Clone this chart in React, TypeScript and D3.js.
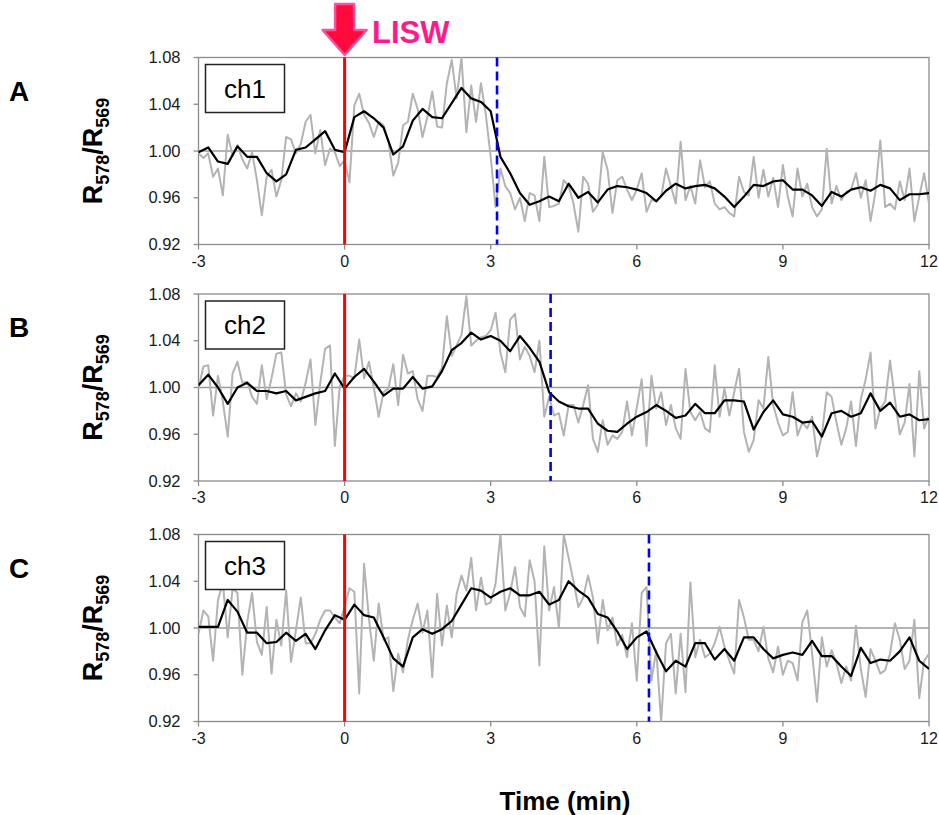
import React from "react";
import * as d3 from "d3";

// sampling grids (min)
const grayTimes = d3.range(151).map((i) => -3 + i * 0.1);
const blackTimes = d3.range(76).map((i) => -3 + i * 0.2);

const panelLetters = ["A", "B", "C"];
const channelNames = ["ch1", "ch2", "ch3"];
const endTimes = [3.13, 4.23, 6.25]; // blue dashed markers
const lisw = 0;

const xTicks = [-3, 0, 3, 6, 9, 12];
const yTicks = [0.92, 0.96, 1.0, 1.04, 1.08];

// raw ratio (gray)
const rawA = [
  0.998, 0.994, 0.998, 0.978, 0.985, 0.962, 1.014, 0.996, 1.005, 0.993,
  0.985, 0.999, 0.975, 0.945, 0.978, 0.984, 0.961, 0.975, 1.012, 1.01,
  0.998, 1.006, 1.025, 1.031, 0.998, 1.018, 0.988, 1.002, 0.999, 0.987,
  0.992, 0.973, 1.039, 1.049, 1.031, 1.024, 1.012, 1.025, 1.022, 1.008,
  0.979, 0.99, 1.022, 1.025, 1.049, 1.036, 1.012, 1.029, 1.051, 1.021,
  1.02, 1.058, 1.078, 1.045, 1.08, 1.016, 1.056, 1.025, 1.058, 1.031,
  0.995, 0.952, 0.985, 0.97, 0.964, 0.95, 0.96, 0.94, 0.964, 0.962,
  0.94, 0.995, 0.952, 0.953, 0.955, 0.975, 0.97, 0.955, 0.931, 0.978,
  0.972, 0.948, 0.954, 0.999, 0.984, 0.947, 0.975, 0.978, 0.967, 0.958,
  0.967, 0.981, 0.948, 0.958, 0.957, 0.961, 0.985, 0.97, 0.955, 1.008,
  0.958, 0.97, 0.955, 0.992, 0.969, 0.974, 0.955, 0.95, 0.952, 0.947,
  0.944, 0.978, 0.965, 0.962, 0.995, 0.96, 0.984, 0.961, 0.977, 0.952,
  0.988, 0.961, 0.944, 0.985, 0.961, 0.972, 0.952, 0.944, 0.95, 1.002,
  0.955, 0.97, 0.958, 0.965, 0.967, 0.981, 0.96, 0.975, 0.94, 0.965,
  1.009, 0.952, 0.955, 0.95, 0.974, 0.958, 0.985, 0.94, 0.961, 0.981, 0.955,
];
const rawB = [
  0.999, 1.018, 1.019, 0.976, 1.01, 0.988, 0.958, 1.012, 1.022, 1.004,
  1.005, 0.992, 0.986, 1.019, 0.99, 1.008, 1.029, 1.03, 0.994, 0.984,
  0.995, 0.988, 1.004, 1.024, 0.968, 1.004, 1.033, 1.036, 0.95, 1.001,
  1.01, 1.01, 1.008, 1.041, 1.008, 1.022, 1.0, 0.975, 0.996, 0.999,
  1.02, 0.985, 1.028, 1.012, 1.014, 0.99, 0.98, 1.01, 1.01, 1.009,
  1.017, 1.061, 1.027, 1.036, 1.045, 1.078, 1.036, 1.04, 1.043, 1.044,
  1.049, 1.064, 1.03, 1.013, 1.058, 1.063, 1.024, 1.035, 1.027, 1.013,
  1.04, 0.975, 0.992, 0.976, 0.978, 0.959, 0.985, 0.985, 0.97, 0.985,
  1.002, 0.956, 0.945, 0.972, 0.951, 0.959, 0.956, 0.962, 0.988, 0.959,
  0.983, 1.007, 0.95, 1.01, 0.982, 0.996, 0.968, 0.985, 0.965, 0.956,
  1.016, 0.979, 0.972, 0.979, 0.965, 0.962, 1.019, 0.975, 0.999, 0.976,
  0.996, 1.016, 0.962, 0.945, 0.955, 0.989, 0.982, 1.026, 0.985, 0.97,
  0.959, 0.962, 0.996, 0.959, 0.97, 0.965, 0.975, 0.941, 0.959, 0.996,
  0.992, 0.97, 0.951, 0.965, 0.988, 0.95, 0.99, 1.007, 1.03, 0.965,
  0.982, 0.988, 1.023, 0.99, 0.96, 0.97, 1.003, 0.941, 1.014, 0.965, 0.976,
];
const rawC = [
  0.995, 1.015, 1.01, 0.972, 1.024, 1.039, 0.992, 1.034, 1.03, 0.96,
  1.005, 1.03, 0.988, 0.977, 1.018, 0.961, 1.007, 0.985, 1.032, 0.971,
  0.998, 1.026, 0.987, 0.987, 0.995, 1.007, 1.015, 1.015, 1.009, 1.004,
  1.018, 1.034, 1.031, 0.944, 1.055, 1.008, 0.972, 1.021, 0.99, 0.992,
  0.946, 0.978, 0.962, 0.99, 1.007, 1.021, 0.996, 1.015, 0.958, 1.029,
  0.985, 1.019, 0.992, 1.029, 1.045, 1.032, 1.06, 1.015, 1.043, 1.02,
  1.022, 1.038, 1.08, 1.015, 1.03, 1.052, 1.018, 1.01, 1.058, 1.04,
  0.968, 1.07, 1.015, 1.035, 1.0, 1.08, 1.06, 1.04, 1.018, 1.026,
  1.045, 1.026, 0.987, 1.024, 0.998, 1.009, 0.985, 0.994, 0.975, 1.004,
  0.955, 1.03, 1.035, 0.955, 0.981, 0.92, 0.987, 0.995, 0.944, 0.995,
  0.945, 1.039, 0.975, 0.99, 0.975, 0.978, 0.987, 1.001, 0.984, 0.972,
  0.961, 1.024, 1.009, 0.99, 0.99, 0.98, 1.001, 0.974, 0.962, 0.984,
  0.96, 0.972, 0.97, 0.955, 1.005, 1.015, 0.978, 0.937, 0.992, 0.967,
  0.981, 0.97, 0.953, 0.967, 0.955, 1.002, 0.965, 0.941, 0.982, 0.972,
  0.961, 0.964, 0.978, 1.004, 0.99, 0.965, 0.972, 1.007, 0.94, 0.972, 0.978,
];

// moving average (black)
const avgA = [
  0.999, 1.003, 0.991, 0.989, 1.004, 0.995, 0.995, 0.981, 0.974, 0.98,
  1.001, 1.003, 1.01, 1.017, 1.001, 0.999, 1.029, 1.034, 1.028, 1.02,
  0.997, 1.004, 1.026, 1.036, 1.029, 1.028, 1.041, 1.054, 1.045, 1.042,
  1.034, 0.995, 0.981, 0.964, 0.954, 0.957, 0.961, 0.957, 0.972, 0.96,
  0.965, 0.956, 0.967, 0.97, 0.969, 0.967, 0.964, 0.957, 0.966, 0.972,
  0.968, 0.97, 0.971, 0.968, 0.961, 0.952, 0.961, 0.971, 0.97, 0.974,
  0.975, 0.967, 0.967, 0.962, 0.953, 0.965, 0.961, 0.967, 0.969, 0.966,
  0.971, 0.968, 0.958, 0.963, 0.963, 0.964,
];
const avgB = [
  1.002, 1.011, 1.0, 0.986, 1.0, 1.004, 0.997, 0.997, 0.995, 0.997,
  0.989, 0.992, 0.995, 0.997, 1.012, 0.999, 1.009, 1.016, 1.005, 0.993,
  0.999, 0.999, 1.009, 0.999, 1.001, 1.014, 1.032, 1.038, 1.047, 1.041,
  1.044, 1.04, 1.031, 1.044, 1.034, 1.022, 0.996, 0.988, 0.984, 0.982,
  0.982, 0.969, 0.963, 0.962, 0.969, 0.975, 0.979, 0.985, 0.98, 0.974,
  0.976, 0.986, 0.978, 0.978, 0.989, 0.989, 0.988, 0.964, 0.979, 0.989,
  0.977, 0.975, 0.97, 0.971, 0.958, 0.978, 0.98, 0.975, 0.978, 0.995,
  0.98, 0.987, 0.975, 0.977, 0.972, 0.973,
];
const avgC = [
  1.001, 1.001, 1.001, 1.024, 1.014, 0.996, 0.996, 0.987, 0.988, 0.996,
  0.989, 0.995, 0.982, 0.998, 1.011, 1.007, 1.02, 1.011, 1.009, 0.992,
  0.974, 0.967, 0.992, 0.999, 0.995, 0.999, 1.006, 1.02, 1.034, 1.032,
  1.026, 1.031, 1.034, 1.028, 1.028, 1.031, 1.02, 1.024, 1.04, 1.032,
  1.026, 1.012, 1.009, 0.997, 0.982, 0.992, 0.997, 0.979, 0.963, 0.972,
  0.967, 0.987, 0.987, 0.973, 0.982, 0.972, 0.992, 0.992, 0.982, 0.974,
  0.977, 0.979, 0.977, 0.989, 0.976, 0.976, 0.967, 0.959, 0.983, 0.97,
  0.973, 0.972, 0.98, 0.992, 0.972, 0.965,
];

const rawSeries = [rawA, rawB, rawC];
const avgSeries = [avgA, avgB, avgC];

const FONT = "'Liberation Sans', Arial, sans-serif";
const left = 198.5;
const right = 929;
const panelTops = [57.5, 294, 534.5];
const panelH = 187;

function Panel({ idx }: { idx: number }) {
  const top = panelTops[idx];
  const x = d3.scaleLinear().domain([-3, 12]).range([left, right]);
  const y = d3.scaleLinear().domain([0.92, 1.08]).range([top + panelH, top]);
  const line = d3
    .line<number>()
    .x((_, i) => x(grayTimes[i]))
    .y((d) => y(d));
  const avgLine = d3
    .line<number>()
    .x((_, i) => x(blackTimes[i]))
    .y((d) => y(d));
  const clipId = `clip${idx}`;
  const midY = top + panelH / 2;
  return (
    <g>
      <defs>
        <clipPath id={clipId}>
          <rect x={left} y={top} width={right - left} height={panelH} />
        </clipPath>
      </defs>
      {/* frame */}
      <rect x={left} y={top} width={right - left} height={panelH} fill="none" stroke="#8c8c8c" strokeWidth={1.3} />
      <line x1={left} x2={right} y1={y(1)} y2={y(1)} stroke="#9a9a9a" strokeWidth={1.3} />
      {yTicks.map((t) => (
        <g key={t}>
          <line x1={left - 5} x2={left} y1={y(t)} y2={y(t)} stroke="#8c8c8c" strokeWidth={1.3} />
          <text x={left - 18} y={y(t) + 5.5} textAnchor="end" fontSize={16.5} fontFamily={FONT} fill="#1a1a1a">
            {d3.format(".2f")(t)}
          </text>
        </g>
      ))}
      {xTicks.map((t) => (
        <g key={t}>
          <line x1={x(t)} x2={x(t)} y1={top + panelH} y2={top + panelH + 5} stroke="#8c8c8c" strokeWidth={1.3} />
          <text x={x(t)} y={top + panelH + 22} textAnchor="middle" fontSize={16} fontFamily={FONT} fill="#1a1a1a">
            {t}
          </text>
        </g>
      ))}
      <g clipPath={`url(#${clipId})`}>
        <path d={line(rawSeries[idx]) ?? ""} fill="none" stroke="#b3b3b3" strokeWidth={2} strokeLinejoin="round" />
        <path d={avgLine(avgSeries[idx]) ?? ""} fill="none" stroke="#000" strokeWidth={2.2} strokeLinejoin="round" />
      </g>
      <line x1={x(lisw)} x2={x(lisw)} y1={top} y2={top + panelH} stroke="#ff0000" strokeWidth={3} />
      <line
        x1={x(endTimes[idx])}
        x2={x(endTimes[idx])}
        y1={top}
        y2={top + panelH}
        stroke="#0000ff"
        strokeWidth={2.6}
        strokeDasharray="9,5"
      />
      {/* channel label */}
      <rect x={205.5} y={top + 7} width={79} height={48} fill="#fff" stroke="#222" strokeWidth={1.5} />
      <text x={245} y={top + 40} textAnchor="middle" fontSize={26} fontFamily={FONT} fill="#000">
        {channelNames[idx]}
      </text>
      {/* panel letter */}
      <text x={9} y={top + 43} fontSize={28} fontWeight="bold" fontFamily={FONT} fill="#000">
        {panelLetters[idx]}
      </text>
      {/* y title */}
      <text
        transform={`translate(102,${midY}) rotate(-90)`}
        textAnchor="middle"
        fontWeight="bold"
        fontFamily={FONT}
        fontSize={27}
        fill="#000"
      >
        R<tspan fontSize={18} dy={7}>578</tspan>
        <tspan dy={-7}>/R</tspan>
        <tspan fontSize={18} dy={7}>569</tspan>
      </text>
    </g>
  );
}

export default function App() {
  const x = d3.scaleLinear().domain([-3, 12]).range([left, right]);
  const ax = x(lisw);
  const arrow = [
    [ax - 9.5, 4],
    [ax + 9.5, 4],
    [ax + 9.5, 30],
    [ax + 22, 30],
    [ax, 55],
    [ax - 22, 30],
    [ax - 9.5, 30],
  ];
  return (
    <svg width={939} height={815} style={{ position: "absolute", left: 0, top: 0, background: "#fff" }}>
      <rect width={939} height={815} fill="#fff" />
      {panelLetters.map((_, i) => (
        <Panel key={i} idx={i} />
      ))}
      <polygon points={arrow.map((p) => p.join(",")).join(" ")} fill="#ff0a3c" stroke="#ff4fa0" strokeWidth={2.5} strokeLinejoin="round" />
      <text x={372} y={43} fontSize={31} fontWeight="bold" fontFamily={FONT} fill="#ff1a8c">
        LISW
      </text>
      <text x={565} y={810} textAnchor="middle" fontSize={26} fontWeight="bold" fontFamily={FONT} fill="#000">
        Time (min)
      </text>
    </svg>
  );
}
